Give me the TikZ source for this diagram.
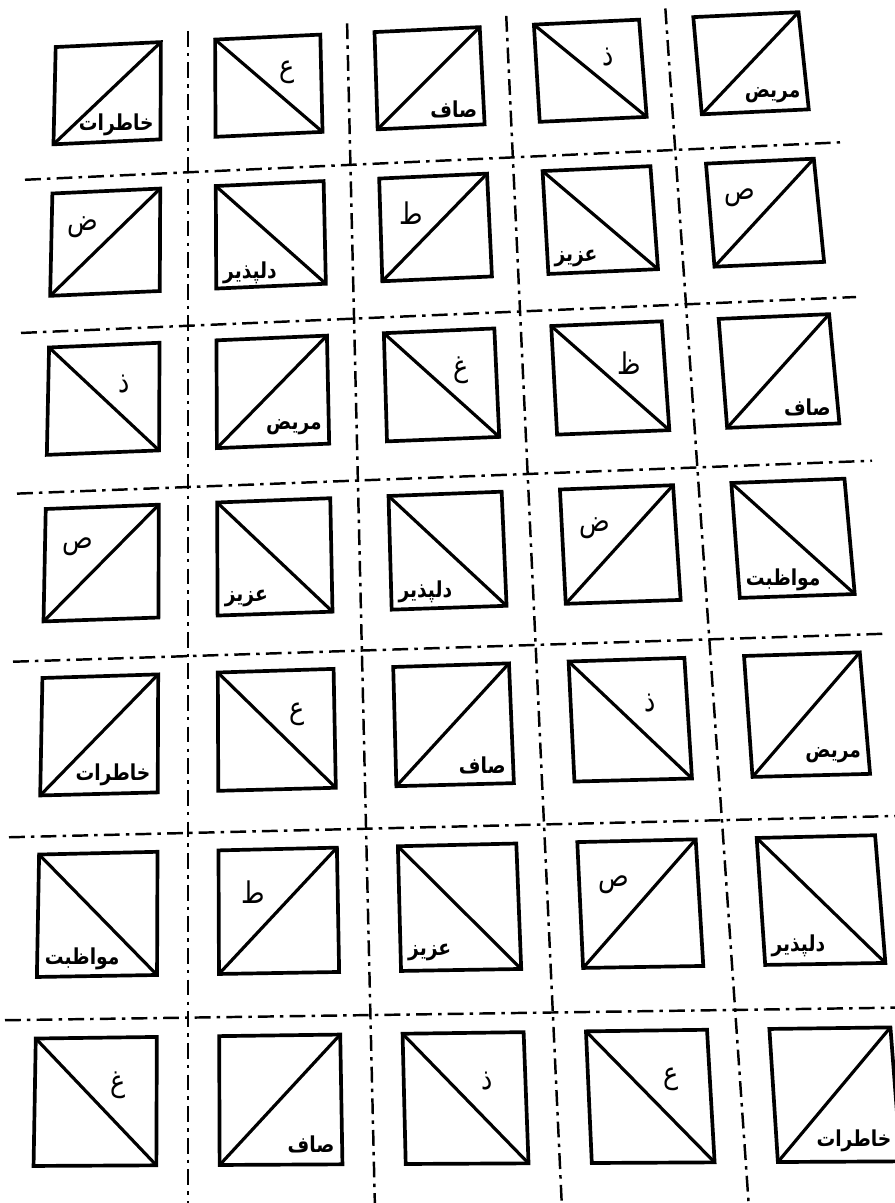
\documentclass[tikz,border=0pt]{standalone}
\usepackage{fontspec}
\newfontfamily\arabicfont[Script=Arabic,FakeStretch=0.85]{DejaVu Sans}
\TeXXeTstate=1

% the sheet is seen a little in perspective: grid point (u,v) -> point on the page
\newcommand\sheetpt[3]{%
  \pgfmathsetmacro\shW{159+4*(#2)}%
  \pgfmathsetmacro\shX{188+((#1)-1)*\shW}%
  \pgfmathsetmacro\shY{34.5+141.75*(#2)+3.75*(#2)^2+(\shX-20)/850*(-39.9+0.15*(#2)+0.75*(#2)^2)}%
  \coordinate (#3) at (\shX,\shY)}

% frame of the card in column #1, row #2
\newcommand\cardframe[2]{%
  \sheetpt{#1-0.83}{#2-0.9}{nw};
  \sheetpt{#1-0.17}{#2-0.9}{ne};
  \sheetpt{#1-0.83}{#2-0.23}{sw};
  \sheetpt{#1-0.17}{#2-0.23}{se};
  \draw[cardedge] (nw) -- (ne) -- (se) -- (sw) -- cycle}

\tikzset{
  cutline/.style={line width=1.4pt,dash pattern=on 9pt off 3.5pt on 2pt off 3.5pt},
  cardedge/.style={line width=2.1pt,line join=miter},
  carddiag/.style={line width=1.8pt},
  word/.style={font=\arabicfont\bfseries\fontsize{12.5}{14}\selectfont,inner sep=0pt},
  letter/.style={font=\arabicfont\fontsize{17}{19}\selectfont,inner sep=0pt}
}

\begin{document}
\begin{tikzpicture}[x=0.02cm,y=-0.02cm]
\useasboundingbox (0,0) rectangle (895,1203);

%---------------------------------
% LÍNEAS DE CORTE
%---------------------------------
\foreach \u in {1,...,4}{
  \sheetpt{\u}{0.03}{vtop};
  \sheetpt{\u}{7}{vbot};
  \draw[cutline] (vtop) -- (vbot);
}
\foreach \v in {1,...,6}{
  \sheetpt{0}{\v}{hleft};
  \sheetpt{5}{\v}{hright};
  \draw[cutline] (hleft) -- (hright);
}

%---------------------------------
% TARJETAS
%---------------------------------
% palabra abajo a la derecha, diagonal /
\foreach \c/\r/\t in {1/1/خاطرات,3/1/صاف,5/1/مریض,2/3/مریض,5/3/صاف,
  1/5/خاطرات,3/5/صاف,5/5/مریض,2/7/صاف,5/7/خاطرات}{
  \cardframe{\c}{\r};
  \draw[carddiag] (sw) -- (ne);
  \sheetpt{\c-0.21}{\r-0.33}{pos};
  \node[word,anchor=east] (w-\c-\r) at (pos) {\beginR\t\endR};
}

% letra arriba a la izquierda, diagonal /
\foreach \c/\r/\t in {1/2/ض,3/2/ط,5/2/ص,1/4/ص,4/4/ض,2/6/ط,4/6/ص}{
  \cardframe{\c}{\r};
  \draw[carddiag] (sw) -- (ne);
  \sheetpt{\c-0.64}{\r-0.665}{pos};
  \node[letter] (w-\c-\r) at (pos) {\beginR\t\endR};
}

% palabra abajo a la izquierda, diagonal \
\foreach \c/\r/\t in {2/2/دلپذیر,4/2/عزیز,2/4/عزیز,3/4/دلپذیر,5/4/مواظبت,
  1/6/مواظبت,3/6/عزیز,5/6/دلپذیر}{
  \cardframe{\c}{\r};
  \draw[carddiag] (nw) -- (se);
  \sheetpt{\c-0.79}{\r-0.33}{pos};
  \node[word,anchor=west] (w-\c-\r) at (pos) {\beginR\t\endR};
}

% letra arriba a la derecha, diagonal \
\foreach \c/\r/\t in {2/1/ع,4/1/ذ,1/3/ذ,3/3/غ,4/3/ظ,2/5/ع,4/5/ذ,1/7/غ,3/7/ذ,4/7/ع}{
  \cardframe{\c}{\r};
  \draw[carddiag] (nw) -- (se);
  \sheetpt{\c-0.38}{\r-0.65}{pos};
  \node[letter] (w-\c-\r) at (pos) {\beginR\t\endR};
}

\end{tikzpicture}
\end{document}
